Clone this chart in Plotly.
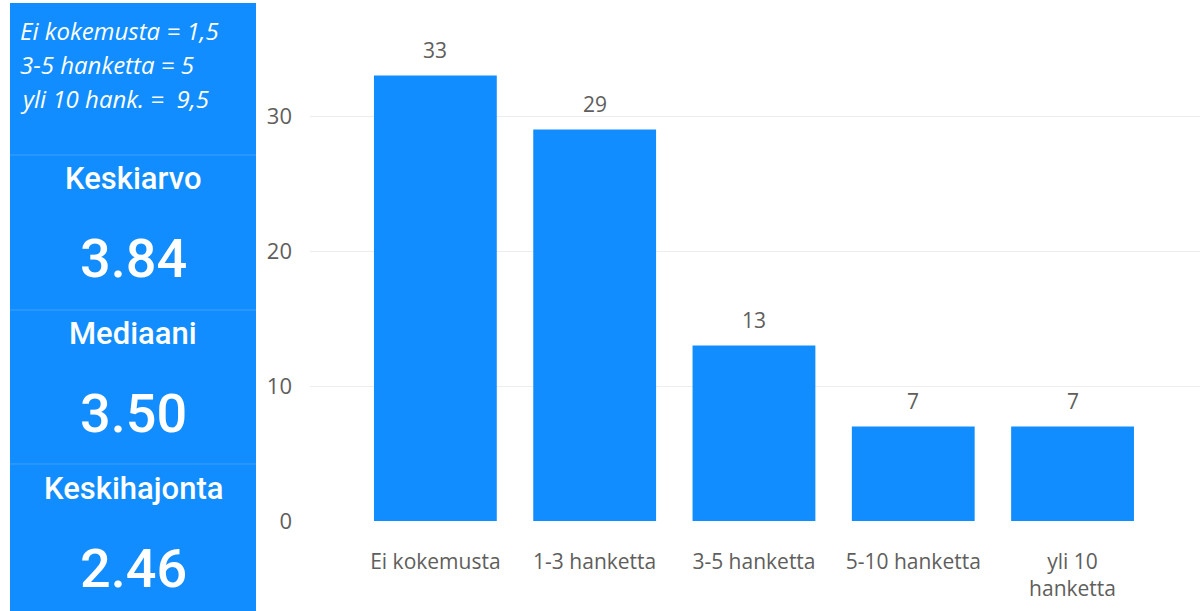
import plotly.graph_objects as go

# Bar chart data
categories = ["Ei kokemusta", "1-3 hanketta", "3-5 hanketta", "5-10 hanketta", "yli 10 hanketta"]
tick_labels = ["Ei kokemusta", "1-3 hanketta", "3-5 hanketta", "5-10 hanketta", "yli 10<br>hanketta"]
counts = [33, 29, 13, 7, 7]

# Side panel content
legend_lines = ["Ei kokemusta = 1,5", "3-5 hanketta = 5", "yli 10 hank. =  9,5"]
card_titles = ["Keskiarvo", "Mediaani", "Keskihajonta"]
card_values = ["3.84", "3.50", "2.46"]

W, H = 1200, 611
PLOT_L, PLOT_R, PLOT_T, PLOT_B = 310, 1200, 0, 521
BLUE = "#118DFF"
GRAY = "#605E5C"


def px(x):
    return (x - PLOT_L) / (PLOT_R - PLOT_L)


def py(y):
    return (PLOT_B - y) / (PLOT_B - PLOT_T)


fig = go.Figure()
fig.add_trace(go.Bar(
    x=categories, y=counts, marker=dict(color=BLUE, line=dict(width=0)),
    hoverinfo="skip",
))

# value labels above bars
for c, v in zip(categories, counts):
    fig.add_annotation(x=c, y=v, text=str(v), showarrow=False, yanchor="bottom",
                       yshift=10, font=dict(family="Open Sans", size=21, color=GRAY))

shapes = []
# left blue panel
shapes.append(dict(type="rect", xref="paper", yref="paper", x0=px(10), x1=px(256),
                   y0=py(611), y1=py(3), fillcolor=BLUE, line=dict(width=0), layer="below"))
for yy in [155, 310, 464]:
    shapes.append(dict(type="line", xref="paper", yref="paper", x0=px(10), x1=px(256),
                       y0=py(yy), y1=py(yy), line=dict(color="#3DA2FF", width=1)))

annotations = []
for i, t in enumerate(legend_lines):
    annotations.append(dict(xref="paper", yref="paper", x=px(18), y=py(31 + i * 33.5),
                            xanchor="left", yanchor="middle", showarrow=False,
                            text=f"<i>{t}</i>",
                            font=dict(family="Open Sans", size=24, color="white")))
for i, (t, v) in enumerate(zip(card_titles, card_values)):
    base = 178 + i * 155
    annotations.append(dict(xref="paper", yref="paper", x=px(133), y=py(base),
                            xanchor="center", yanchor="middle", showarrow=False,
                            text=t, font=dict(family="Roboto", size=31, color="white", weight=500)))
    annotations.append(dict(xref="paper", yref="paper", x=px(133), y=py(base + 80),
                            xanchor="center", yanchor="middle", showarrow=False,
                            text=v, font=dict(family="Roboto", size=54, color="white", weight=500)))

fig.update_layout(
    width=W, height=H,
    margin=dict(l=PLOT_L, r=W - PLOT_R, t=PLOT_T, b=H - PLOT_B),
    paper_bgcolor="white", plot_bgcolor="white",
    bargap=0.229, showlegend=False,
    shapes=shapes,
    annotations=list(fig.layout.annotations) + annotations,
    xaxis=dict(range=[-0.787, 4.8], tickmode="array", tickvals=categories, ticktext=tick_labels,
               tickfont=dict(family="Open Sans", size=21, color=GRAY), showgrid=False,
               ticks="", ticklabelstandoff=26, zeroline=False, showline=False),
    yaxis=dict(range=[0, 521 / 13.5], tickvals=[0, 10, 20, 30],
               tickfont=dict(family="Open Sans", size=22, color=GRAY),
               showgrid=True, gridcolor="#EDEDED", gridwidth=1, zeroline=False,
               ticks="", ticklabelstandoff=17),
)

fig.write_html("out.html")
